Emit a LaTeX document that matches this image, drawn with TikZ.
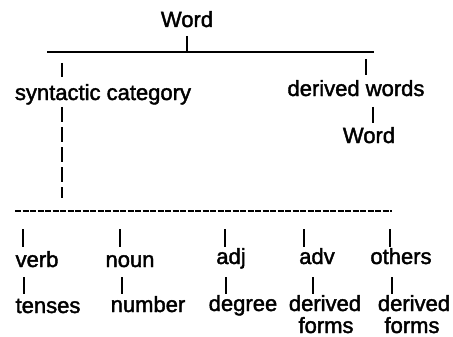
\documentclass[tikz,border=0pt]{standalone}
\usepackage{fontspec}
\setmainfont{Liberation Sans}
\newfontfamily\labelfont{Liberation Sans}[FakeBold=1.8]
\begin{document}
\begin{tikzpicture}[x=1pt,y=-1pt,
  lbl/.style={anchor=base,inner sep=0pt,font=\labelfont\fontsize{22}{24}\selectfont},
  link/.style={line width=1.4pt},
  dotrule/.style={line width=1.3pt,dash pattern=on 6pt off 1.5pt},
  dashrule/.style={line width=1.4pt,dash pattern=on 15pt off 5pt}]
\useasboundingbox (0,0) rectangle (453,337);

% top level
\node[lbl] (root) at (187,27) {Word};
\coordinate (rootT) at (187,36);
\coordinate (barL) at (47,52);
\coordinate (barR) at (374,52);
\coordinate (barM) at (187,52);
\draw[link] (barL) -- (barR);
\draw[link] (rootT) -- (barM);

% syntactic category branch
\coordinate (scT1) at (62,63);
\coordinate (scT2) at (62,77);
\node[lbl] (syn) at (103,100) {syntactic category};
\draw[link] (scT1) -- (scT2);
\coordinate (scD1) at (62,107);
\coordinate (scD2) at (62,198);
\draw[dashrule] (scD1) -- (scD2);

% derived words branch
\coordinate (dwT1) at (366,59);
\coordinate (dwT2) at (366,75);
\node[lbl] (dw) at (356,96) {derived words};
\draw[link] (dwT1) -- (dwT2);
\coordinate (wT1) at (373,107);
\coordinate (wT2) at (373,123);
\node[lbl] (word2) at (369,143) {Word};
\draw[link] (wT1) -- (wT2);

% category rule
\coordinate (catL) at (15,211);
\coordinate (catR) at (392,211);
\draw[dotrule] (catL) -- (catR);

% categories
\node[lbl] (verb)   at (37,267)  {verb};
\node[lbl] (noun)   at (130,267) {noun};
\node[lbl] (adj)    at (231,264) {adj};
\node[lbl] (adv)    at (317,264) {adv};
\node[lbl] (others) at (401,264) {others};

\foreach \n/\x in {verb/23,noun/120,adj/225,adv/304,others/390}{
  \coordinate (\n A) at (\x,229);
  \coordinate (\n B) at (\x,247);
  \draw[link] (\n A) -- (\n B);
}

% properties
\node[lbl] (tenses)  at (48,313)  {tenses};
\node[lbl] (number)  at (148,312) {number};
\node[lbl] (degree)  at (243,311) {degree};
\node[lbl] (dforms1) at (325,311) {derived};
\node[lbl] (forms1)  at (326,333) {forms};
\node[lbl] (dforms2) at (414,311) {derived};
\node[lbl] (forms2)  at (412,333) {forms};

\foreach \n/\x in {verb/24,noun/122,adj/226,adv/313,others/392}{
  \coordinate (\n C) at (\x,277);
  \coordinate (\n D) at (\x,294);
  \draw[link] (\n C) -- (\n D);
}
\end{tikzpicture}
\end{document}
